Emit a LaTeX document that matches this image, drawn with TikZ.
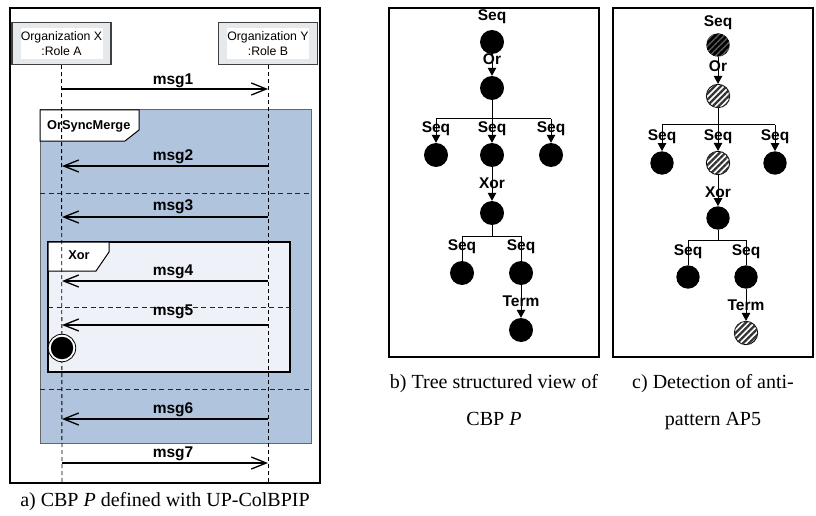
\documentclass[tikz,border=0pt]{standalone}
\usepackage{fontspec}
\setmainfont{Liberation Serif}
\setsansfont{Liberation Sans}
\usetikzlibrary{arrows.meta,patterns.meta}
\definecolor{steel}{HTML}{B0C4DE}
\definecolor{pale}{HTML}{EEF2F8}
\definecolor{boxgray}{HTML}{E6E9EC}
\begin{document}
\begin{tikzpicture}[x=1pt,y=-1pt,
  panelframe/.style={draw=black,line width=2pt},
  lifebox/.style={draw=black!75,line width=1.4pt,fill=boxgray,minimum width=99pt,minimum height=42pt,inner sep=0pt},
  lifetext/.style={fill=white,align=center,font=\sffamily\fontsize{12.3}{14.5}\selectfont,minimum width=82pt,minimum height=31pt,inner sep=0pt},
  lifeline/.style={draw=black,line width=0.9pt,dash pattern=on 4pt off 3pt},
  msgarrow/.style={draw=black,line width=1.3pt,-{Straight Barb[length=15pt,width=12pt,line width=1.3pt]}},
  msglab/.style={font=\sffamily\bfseries\fontsize{15.5}{17}\selectfont,anchor=base,inner sep=0pt},
  sepline/.style={draw=black!85,line width=0.9pt,dash pattern=on 5pt off 3.5pt},
  tabshape/.style={draw=black,line width=1pt,fill=white},
  tablab/.style={font=\sffamily\bfseries\fontsize{12.8}{14}\selectfont,inner sep=0pt},
  tnode/.style={circle,fill=black,inner sep=0pt,minimum size=24pt},
  hnode/.style={circle,inner sep=0pt,minimum size=23.4pt,draw=black,line width=0.8pt,preaction={fill=white},postaction={pattern={Lines[angle=45,distance=4.2pt,line width=2.3pt]},pattern color=black!80}},
  dnode/.style={circle,inner sep=0pt,minimum size=23.4pt,fill=black,postaction={pattern={Lines[angle=45,distance=4.2pt,line width=1.4pt]},pattern color=black!65}},
  tlab/.style={font=\sffamily\bfseries\fontsize{15.5}{17}\selectfont,anchor=base,inner sep=0pt},
  tarrow/.style={draw=black,line width=1pt,-{Triangle[length=8pt,width=8.5pt]}},
  tline/.style={draw=black,line width=1pt},
  captext/.style={font=\fontsize{20}{24}\selectfont,anchor=base,inner sep=0pt}
]
\useasboundingbox (0,0) rectangle (816,516);

% ---------------- panel a ----------------
\draw[panelframe] (10,8) rectangle (320,483);

\node[lifebox] (A) at (61.5,43.5) {};
\node[lifetext] (At) at (A) {Organization X\\:Role A};
\node[lifebox] (B) at (268,43.5) {};
\node[lifetext] (Bt) at (B) {Organization Y\\:Role B};

% combined fragment OrSyncMerge
\draw[draw=black!60,line width=1pt,fill=steel] (40,110) rectangle (311,443);
\draw[tabshape] (40,110) -- (139,110) -- (139,130) -- (125,141) -- (40,141) -- cycle;
\node[tablab,anchor=west] (tOr) at (47,126) {OrSyncMerge};
\draw[sepline] (40,193) -- (311,193);
\draw[sepline] (40,389) -- (311,389);

% combined fragment Xor
\draw[draw=black,line width=1.1pt,fill=pale] (48,242) rectangle (290,372);
\draw[tabshape] (48,242) -- (109,242) -- (109,252) -- (96,271) -- (48,271) -- cycle;
\node[tablab] (tXor) at (79,255) {Xor};
\draw[sepline] (48,307) -- (290,307);

% lifelines
\coordinate (Aend) at (62,483);
\coordinate (Bend) at (268,483);
\draw[lifeline] (A.south) -- (Aend);
\draw[lifeline] (B.south) -- (Bend);

% messages
\coordinate (a1) at (62,89);  \coordinate (b1) at (268,89);
\coordinate (a2) at (62,166); \coordinate (b2) at (268,166);
\coordinate (a3) at (62,217); \coordinate (b3) at (268,217);
\coordinate (a4) at (62,281); \coordinate (b4) at (268,281);
\coordinate (a5) at (62,325); \coordinate (b5) at (268,325);
\coordinate (a6) at (62,419); \coordinate (b6) at (268,419);
\coordinate (a7) at (62,463); \coordinate (b7) at (268,463);
\draw[msgarrow] (a1) -- (b1);
\draw[msgarrow] (b2) -- (a2);
\draw[msgarrow] (b3) -- (a3);
\draw[msgarrow] (b4) -- (a4);
\draw[msgarrow] (b5) -- (a5);
\draw[msgarrow] (b6) -- (a6);
\draw[msgarrow] (a7) -- (b7);
\node[msglab] (l1) at (173,85) {msg1};
\node[msglab] (l2) at (173,160) {msg2};
\node[msglab] (l3) at (173,210) {msg3};
\node[msglab] (l4) at (173,275) {msg4};
\node[msglab] (l5) at (173,315) {msg5};
\node[msglab] (l6) at (173,413) {msg6};
\node[msglab] (l7) at (173,457) {msg7};

% final state
\node[circle,draw=black,line width=0.8pt,fill=white,minimum size=27.5pt,inner sep=0pt] (fin) at (62,348) {};
\node[circle,fill=black,minimum size=22.5pt,inner sep=0pt] (fini) at (fin) {};

\node[captext] (capA) at (165,506) {a) CBP \textit{P} defined with UP-ColBPIP};

% ---------------- panel b ----------------
\draw[panelframe] (389,8) rectangle (599,357);
\node[tnode] (n0) at (492,42) {};
\node[tnode] (n1) at (492,88) {};
\node[tnode] (n2) at (436,155) {};
\node[tnode] (n3) at (492,155) {};
\node[tnode] (n4) at (551,155) {};
\node[tnode] (n5) at (492,213) {};
\node[tnode] (n6) at (462,273) {};
\node[tnode] (n7) at (521,273) {};
\node[tnode] (n8) at (521,330) {};
\coordinate (nj1) at (492,119); \coordinate (nl1) at (436,119); \coordinate (nr1) at (551,119);
\coordinate (nj2) at (492,236); \coordinate (nl2) at (462,236); \coordinate (nr2) at (521,236);
\draw[tarrow] (n0) -- (n1);
\draw[tline] (n1) -- (nj1);
\draw[tline] (nl1) -- (nr1);
\draw[tarrow] (nl1) -- (n2);
\draw[tarrow] (nj1) -- (n3);
\draw[tarrow] (nr1) -- (n4);
\draw[tarrow] (n3) -- (n5);
\draw[tline] (n5) -- (nj2);
\draw[tline] (nl2) -- (nr2);
\draw[tline] (nl2) -- (n6);
\draw[tline] (nr2) -- (n7);
\draw[tarrow] (n7) -- (n8);
\node[tlab] (ns0) at (492,21) {Seq};
\node[tlab] (nor) at (492,65) {Or};
\node[tlab] (ns2) at (436,132) {Seq};
\node[tlab] (ns3) at (492,132) {Seq};
\node[tlab] (ns4) at (551,132) {Seq};
\node[tlab] (nxor) at (492,188) {Xor};
\node[tlab] (ns6) at (462,250) {Seq};
\node[tlab] (ns7) at (521,250) {Seq};
\node[tlab] (nterm) at (521,306) {Term};
\node[captext] (capB1) at (494,388) {b) Tree structured view of};
\node[captext] (capB2) at (494,425) {CBP \textit{P}};

% ---------------- panel c ----------------
\draw[panelframe] (613,8) rectangle (813,357);
\node[dnode] (c0) at (718,45) {};
\node[hnode] (c1) at (718,96) {};
\node[tnode,minimum size=23.4pt] (c2) at (662,163) {};
\node[hnode] (c3) at (718,163) {};
\node[tnode,minimum size=23.4pt] (c4) at (775,163) {};
\node[tnode,minimum size=23.4pt] (c5) at (718,218) {};
\node[tnode,minimum size=23.4pt] (c6) at (688,277) {};
\node[tnode,minimum size=23.4pt] (c7) at (746,277) {};
\node[hnode] (c8) at (746,333) {};
\coordinate (cj1) at (718,125); \coordinate (cl1) at (662,125); \coordinate (cr1) at (775,125);
\coordinate (cj2) at (718,240); \coordinate (cl2) at (688,240); \coordinate (cr2) at (746,240);
\draw[tarrow] (c0) -- (c1);
\draw[tline] (c1) -- (cj1);
\draw[tline] (cl1) -- (cr1);
\draw[tarrow] (cl1) -- (c2);
\draw[tarrow] (cj1) -- (c3);
\draw[tarrow] (cr1) -- (c4);
\draw[tarrow] (c3) -- (c5);
\draw[tline] (c5) -- (cj2);
\draw[tline] (cl2) -- (cr2);
\draw[tline] (cl2) -- (c6);
\draw[tline] (cr2) -- (c7);
\draw[tarrow] (c7) -- (c8);
\node[tlab] (cs0) at (718,27) {Seq};
\node[tlab] (cor) at (718,72) {Or};
\node[tlab] (cs2) at (662,140) {Seq};
\node[tlab] (cs3) at (718,140) {Seq};
\node[tlab] (cs4) at (775,140) {Seq};
\node[tlab] (cxor) at (718,197) {Xor};
\node[tlab] (cs6) at (688,255) {Seq};
\node[tlab] (cs7) at (746,255) {Seq};
\node[tlab] (cterm) at (746,310) {Term};
\node[captext] (capC1) at (713,388) {c) Detection of anti-};
\node[captext] (capC2) at (713,425) {pattern AP5};
\end{tikzpicture}
\end{document}
